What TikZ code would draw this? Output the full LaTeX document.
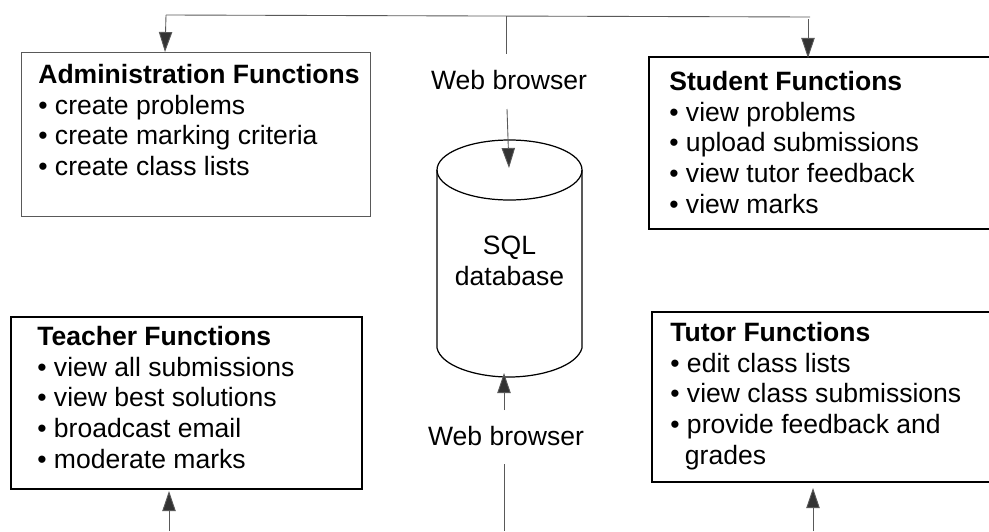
\documentclass[tikz,border=0pt]{standalone}
\usepackage{fontspec}
\setmainfont{Liberation Sans}
\usetikzlibrary{arrows.meta}
\tikzset{
    funcbox/.style={rectangle, draw=black, line width=0.9pt, inner sep=0pt},
    funcbody/.style={anchor=north west, align=left, inner sep=0pt, font=\fontsize{15.1pt}{17.45pt}\selectfont},
    weblabel/.style={inner sep=0pt, font=\fontsize{15.1pt}{18pt}\selectfont},
    link/.style={draw=black!65, line width=0.5pt},
    linkhead/.style={link, -{Triangle[length=11.4pt, width=7.6pt, fill=black!80]}}
}
\begin{document}
\begin{tikzpicture}[x=0.02cm, y=-0.02cm]
    \useasboundingbox (0,0) rectangle (989,531);
    % function boxes
    \node[funcbox, draw=black!65, line width=0.5pt, minimum width=6.98cm, minimum height=3.28cm] (admin) at (195.5,134) {};
    \node[funcbox, minimum width=6.92cm, minimum height=3.44cm] (student) at (822,143) {};
    \node[funcbox, minimum width=7.02cm, minimum height=3.44cm] (teacher) at (186.5,403) {};
    \node[funcbox, minimum width=6.86cm, minimum height=3.4cm] (tutor) at (823.5,397) {};
    \node[funcbody] (admintext) at (38,64) {\textbf{Administration Functions}\\• create problems\\• create marking criteria\\• create class lists};
    \node[funcbody] (studenttext) at (669,71) {\textbf{Student Functions}\\• view problems\\• upload submissions\\• view tutor feedback\\• view marks};
    \node[funcbody] (teachertext) at (37,326) {\textbf{Teacher Functions}\\• view all submissions\\• view best solutions\\• broadcast email\\• moderate marks};
    \node[funcbody] (tutortext) at (670,322) {\textbf{Tutor Functions}\\• edit class lists\\• view class submissions\\• provide feedback and\\\hspace*{0.55em}grades};
    % database
    \draw[line width=0.7pt] (437,170) arc[start angle=180, end angle=0, x radius=72.5, y radius=-30] arc[start angle=0, end angle=-180, x radius=72.5, y radius=-30];
    \draw[line width=0.7pt] (437,170) -- (437,348) .. controls (441,366) and (476,377) .. (509,377) .. controls (542,377) and (577,366) .. (582,348) -- (582,170);
    \node[align=center, inner sep=0pt, font=\fontsize{15.1pt}{17.45pt}\selectfont] (db) at (509.5,261) {SQL\\database};
    \node[weblabel] (webtop) at (509,80) {Web browser};
    \node[weblabel] (webbottom) at (506,436) {Web browser};
    % connectors
    \coordinate (topleft) at (166,15);
    \coordinate (topright) at (810,17);
    \coordinate (topmid) at (506,16);
    \coordinate (midend) at (506,54);
    \coordinate (topstudent) at (808,19);
    \coordinate (dbin) at (509,168);
    \coordinate (webin) at (507,109);
    \coordinate (dbout) at (504,373);
    \coordinate (webout) at (504,410);
    \coordinate (lowline) at (504,464);
    \coordinate (lowend) at (504,531);
    \coordinate (teacherin) at (169,491);
    \coordinate (teacherfoot) at (169,531);
    \coordinate (tutorin) at (813,488);
    \coordinate (tutorfoot) at (813,531);
    \draw[link] (topleft) -- (topright);
    \draw[link] (topmid) -- (midend);
    \draw[link] (lowline) -- (lowend);
    \draw[linkhead] (topleft) -- (165,52);
    \draw[linkhead] (topstudent) -- (808,58);
    \draw[linkhead] (webin) -- (dbin);
    \draw[linkhead] (webout) -- (dbout);
    \draw[linkhead] (teacherfoot) -- (teacherin);
    \draw[linkhead] (tutorfoot) -- (tutorin);
\end{tikzpicture}
\end{document}
